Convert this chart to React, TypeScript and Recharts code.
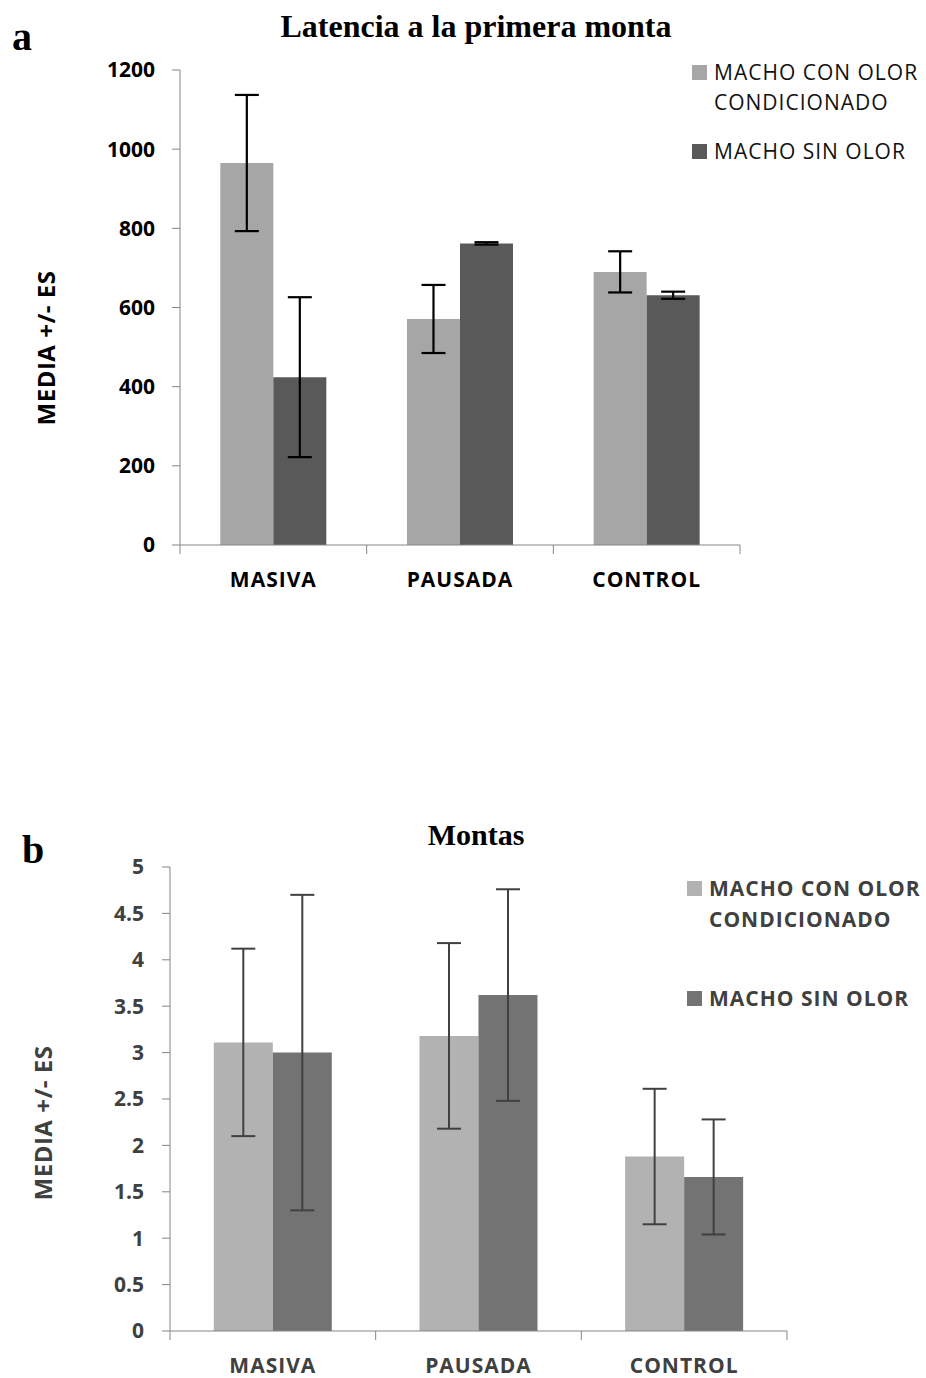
import React from 'react';
import { BarChart, Bar, XAxis, YAxis, ErrorBar, Legend } from 'recharts';

const grupos = ['MASIVA', 'PAUSADA', 'CONTROL'];
const series = ['MACHO CON OLOR CONDICIONADO', 'MACHO SIN OLOR'];
const ejeY = 'MEDIA +/- ES';

// a) latencia a la primera monta
const latenciaConOlor = [965, 571, 690];
const latenciaConOlorES = [172, 86, 52];
const latenciaSinOlor = [424, 762, 631];
const latenciaSinOlorES = [202, 3, 9];
const ticksLatencia = [0, 200, 400, 600, 800, 1000, 1200];

// b) numero de montas
const montasConOlor = [3.11, 3.18, 1.88];
const montasConOlorES = [1.01, 1.0, 0.73];
const montasSinOlor = [3.0, 3.62, 1.66];
const montasSinOlorES = [1.7, 1.14, 0.62];
const ticksMontas = [0, 0.5, 1, 1.5, 2, 2.5, 3, 3.5, 4, 4.5, 5];

const sans = "'Open Sans', sans-serif";
const serif = "'Liberation Serif', 'Times New Roman', serif";

const buildRows = (a: number[], aEs: number[], b: number[], bEs: number[]) =>
  grupos.map((g, i) => ({ grupo: g, con: a[i], conES: aEs[i], sin: b[i], sinES: bEs[i] }));

const datosA = buildRows(latenciaConOlor, latenciaConOlorES, latenciaSinOlor, latenciaSinOlorES);
const datosB = buildRows(montasConOlor, montasConOlorES, montasSinOlor, montasSinOlorES);

// category label in the middle, Excel-style tick marks on the band edges
const makeTick = (color: string) => (props: any) => {
  const { x, y, payload, index, width, visibleTicksCount } = props;
  const half = payload?.offset || width / visibleTicksCount / 2;
  const last = index === visibleTicksCount - 1;
  return (
    <g>
      <line x1={x - half} x2={x - half} y1={y} y2={y + 9} stroke="#868686" />
      {last && <line x1={x + half} x2={x + half} y1={y} y2={y + 9} stroke="#868686" />}
      <text
        x={x}
        y={y + 42}
        textAnchor="middle"
        fill={color}
        fontFamily={sans}
        fontSize={21}
        fontWeight={700}
        letterSpacing={1}
      >
        {payload.value}
      </text>
    </g>
  );
};

const makeLegend = (opts: { color: string; weight: number; lineH: number; gap: number }) => (props: any) => {
  const items = props.payload || [];
  return (
    <div style={{ fontFamily: sans, fontSize: 21, fontWeight: opts.weight, color: opts.color, letterSpacing: 1 }}>
      {items.map((it: any, i: number) => (
        <div key={i} style={{ display: 'flex', alignItems: 'flex-start', marginTop: i === 0 ? 0 : opts.gap }}>
          <div
            style={{
              width: 15,
              height: 15,
              background: it.color,
              marginTop: (opts.lineH - 15) / 2,
              marginRight: 7,
              flexShrink: 0,
            }}
          />
          <div style={{ lineHeight: opts.lineH + 'px', width: 216 }}>{it.value}</div>
        </div>
      ))}
    </div>
  );
};

const makeAxisTitle = (x: number, y: number, color: string) => () => (
  <text
    x={x}
    y={y}
    transform={`rotate(-90 ${x} ${y})`}
    textAnchor="middle"
    dominantBaseline="central"
    fill={color}
    fontFamily={sans}
    fontSize={24}
    fontWeight={700}
    letterSpacing={0.5}
  >
    {ejeY}
  </text>
);

const Titulo = ({ text, top, size }: { text: string; top: number; size: number }) => (
  <div
    style={{
      position: 'absolute',
      left: 0,
      width: 952,
      top,
      textAlign: 'center',
      fontFamily: serif,
      fontWeight: 700,
      fontSize: size,
      lineHeight: size + 'px',
      color: '#000',
    }}
  >
    {text}
  </div>
);

const Letra = ({ text, left, top }: { text: string; left: number; top: number }) => (
  <div
    style={{
      position: 'absolute',
      left,
      top,
      fontFamily: serif,
      fontWeight: 700,
      fontSize: 40,
      lineHeight: '40px',
      color: '#000',
    }}
  >
    {text}
  </div>
);

export default function App() {
  return (
    <div style={{ position: 'absolute', left: 0, top: 0, width: 926, height: 1378, background: '#fff' }}>
      <Letra text="a" left={12} top={17} />
      <Titulo text="Latencia a la primera monta" top={10} size={32} />
      <div style={{ position: 'absolute', left: 0, top: 0 }}>
        <BarChart
          width={926}
          height={620}
          data={datosA}
          margin={{ top: 70, right: 186, left: 0, bottom: 30 }}
          barCategoryGap="21.6%"
          barGap={0}
        >
          <XAxis
            dataKey="grupo"
            height={45}
            tickSize={0}
            tickMargin={0}
            axisLine={{ stroke: '#868686' }}
            tickLine={false}
            tick={makeTick('#000')}
            interval={0}
          />
          <YAxis
            width={180}
            domain={[0, 1200]}
            ticks={ticksLatencia}
            interval={0}
            tickSize={8}
            tickMargin={17}
            axisLine={{ stroke: '#868686' }}
            tickLine={{ stroke: '#868686' }}
            tick={{ fill: '#000', fontSize: 21, fontWeight: 700, fontFamily: sans }}
            label={{ content: makeAxisTitle(45, 348, '#000') }}
          />
          <Legend
            layout="vertical"
            align="center"
            verticalAlign="middle"
            wrapperStyle={{ position: 'absolute', left: 692, top: 57, width: 234 }}
            content={makeLegend({ color: '#111', weight: 400, lineH: 30, gap: 19 })}
          />
          <Bar dataKey="con" name={series[0]} fill="#a6a6a6" isAnimationActive={false}>
            <ErrorBar dataKey="conES" width={12} strokeWidth={2.2} stroke="#000" direction="y" />
          </Bar>
          <Bar dataKey="sin" name={series[1]} fill="#595959" isAnimationActive={false}>
            <ErrorBar dataKey="sinES" width={12} strokeWidth={2.2} stroke="#000" direction="y" />
          </Bar>
        </BarChart>
      </div>

      <Letra text="b" left={22} top={830} />
      <Titulo text="Montas" top={820} size={30} />
      <div style={{ position: 'absolute', left: 0, top: 780 }}>
        <BarChart
          width={926}
          height={598}
          data={datosB}
          margin={{ top: 87, right: 139, left: 0, bottom: 2 }}
          barCategoryGap="21.3%"
          barGap={0}
        >
          <XAxis
            dataKey="grupo"
            height={45}
            tickSize={0}
            tickMargin={0}
            axisLine={{ stroke: '#868686' }}
            tickLine={false}
            tick={makeTick('#404040')}
            interval={0}
          />
          <YAxis
            width={170}
            domain={[0, 5]}
            ticks={ticksMontas}
            interval={0}
            tickSize={8}
            tickMargin={18}
            axisLine={{ stroke: '#868686' }}
            tickLine={{ stroke: '#868686' }}
            tick={{ fill: '#404040', fontSize: 21, fontWeight: 700, fontFamily: sans }}
            label={{ content: makeAxisTitle(42, 343, '#404040') }}
          />
          <Legend
            layout="vertical"
            align="center"
            verticalAlign="middle"
            wrapperStyle={{ position: 'absolute', left: 687, top: 93, width: 239 }}
            content={makeLegend({ color: '#404040', weight: 700, lineH: 31, gap: 48 })}
          />
          <Bar dataKey="con" name={series[0]} fill="#b2b2b2" isAnimationActive={false}>
            <ErrorBar dataKey="conES" width={12} strokeWidth={2} stroke="#404040" direction="y" />
          </Bar>
          <Bar dataKey="sin" name={series[1]} fill="#737373" isAnimationActive={false}>
            <ErrorBar dataKey="sinES" width={12} strokeWidth={2} stroke="#404040" direction="y" />
          </Bar>
        </BarChart>
      </div>
    </div>
  );
}
